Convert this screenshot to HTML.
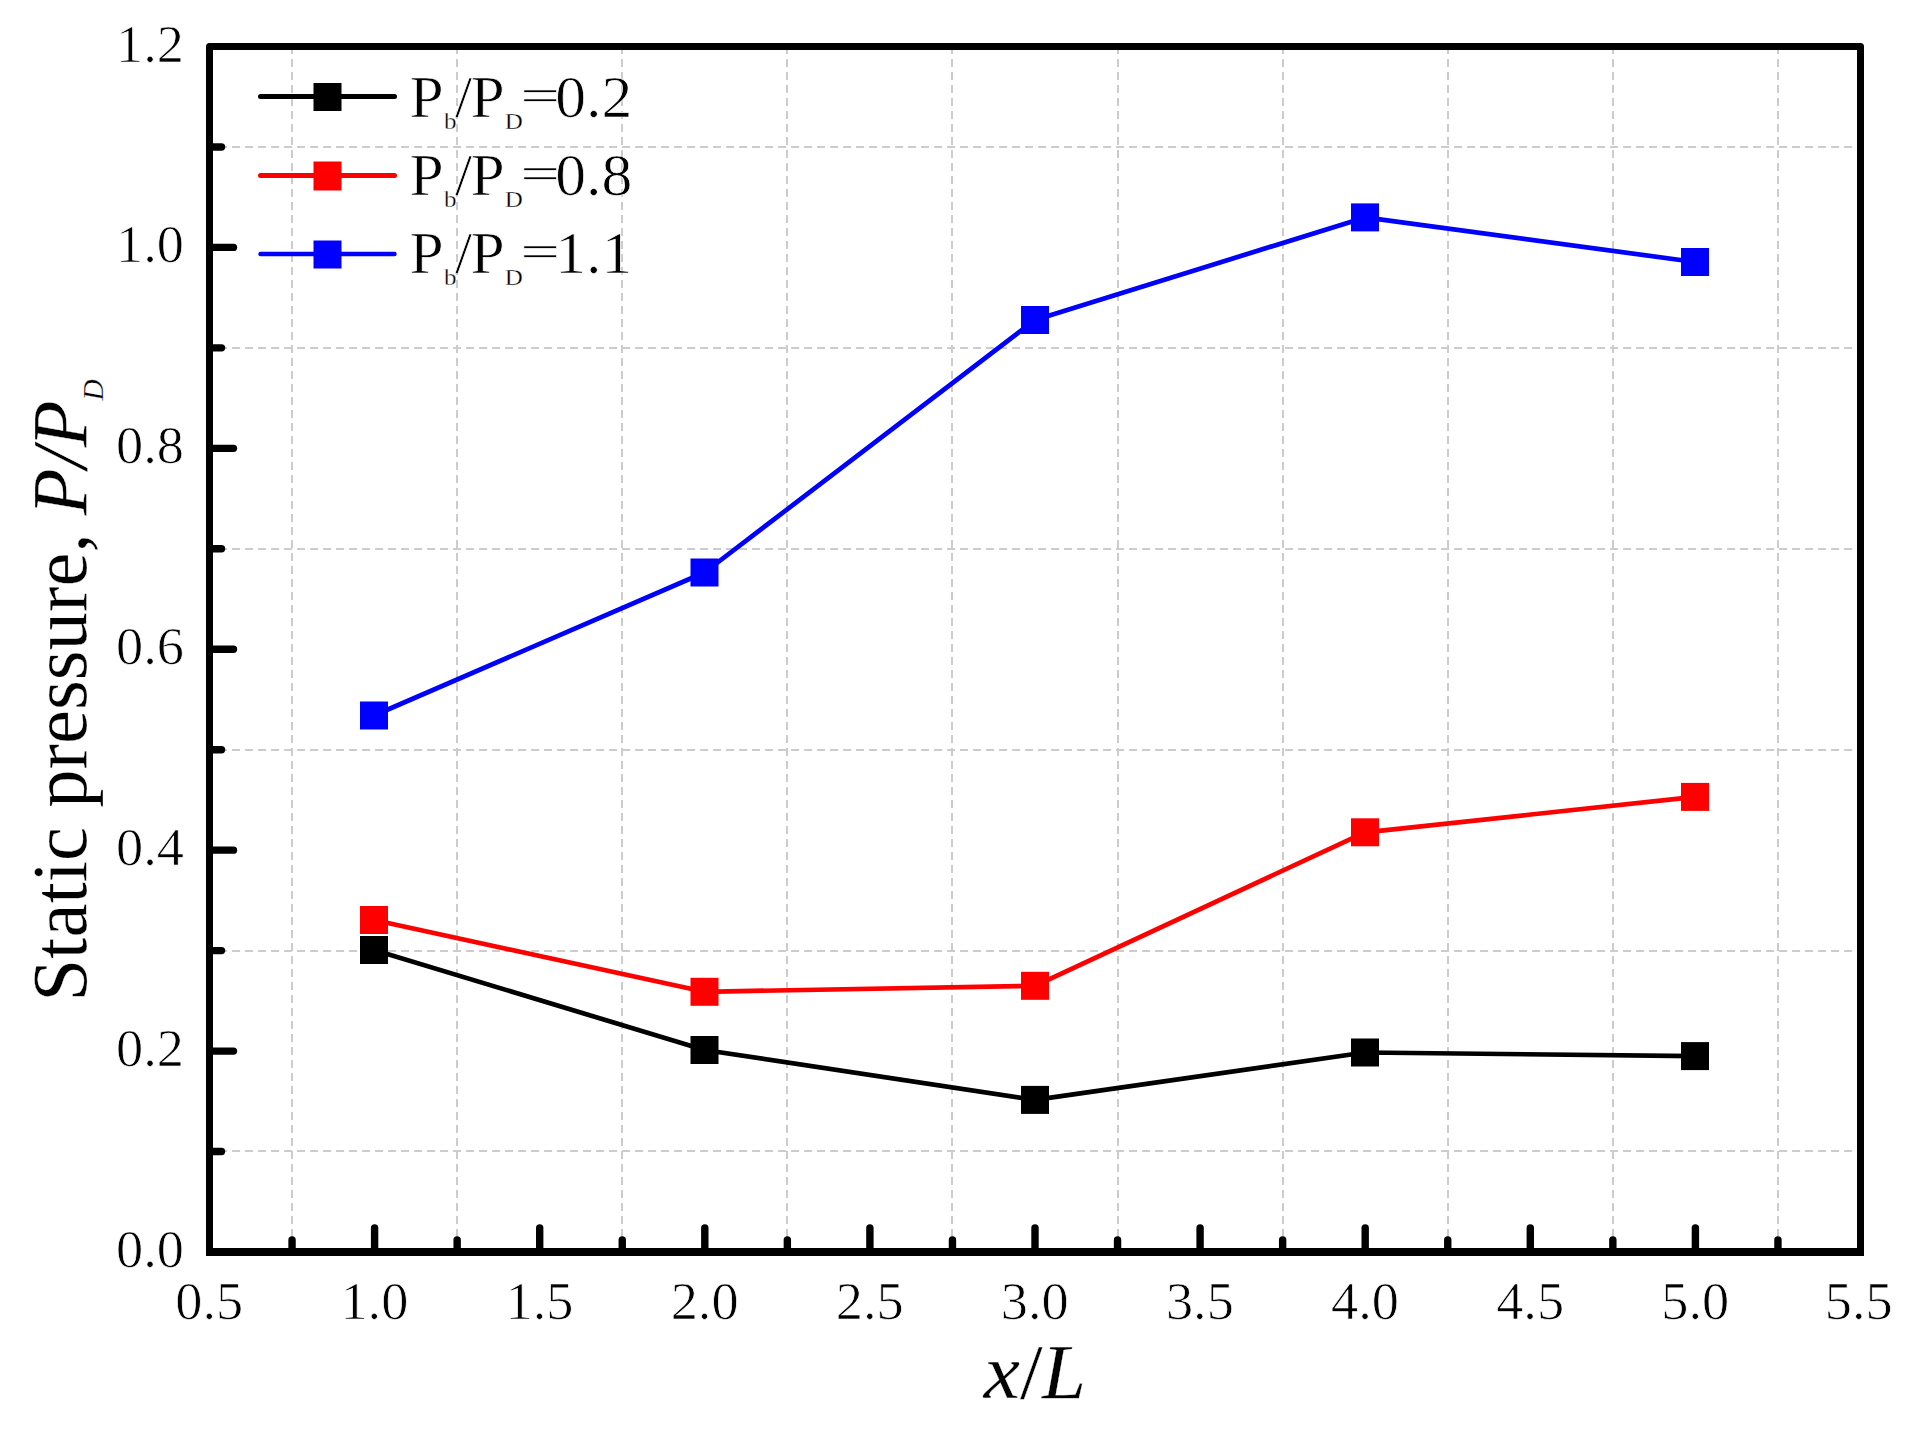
<!DOCTYPE html>
<html><head><meta charset="utf-8"><title>Static pressure</title>
<style>html,body{margin:0;padding:0;background:#fff}body{width:1915px;height:1439px;overflow:hidden}svg{display:block}text{font-family:"Liberation Serif",serif;fill:#000;stroke:#fff;stroke-width:0.7px}.t{stroke-width:0.3px}</style></head><body>
<svg width="1915" height="1439" viewBox="0 0 1915 1439">
<rect width="1915" height="1439" fill="#fff"/>
<g stroke="#cccccc" stroke-width="2" stroke-dasharray="8 5" fill="none">
<line x1="292" y1="46.00" x2="292" y2="1252.00"/>
<line x1="457" y1="46.00" x2="457" y2="1252.00"/>
<line x1="622" y1="46.00" x2="622" y2="1252.00"/>
<line x1="787" y1="46.00" x2="787" y2="1252.00"/>
<line x1="952" y1="46.00" x2="952" y2="1252.00"/>
<line x1="1118" y1="46.00" x2="1118" y2="1252.00"/>
<line x1="1283" y1="46.00" x2="1283" y2="1252.00"/>
<line x1="1448" y1="46.00" x2="1448" y2="1252.00"/>
<line x1="1613" y1="46.00" x2="1613" y2="1252.00"/>
<line x1="1778" y1="46.00" x2="1778" y2="1252.00"/>
<line x1="206.10" y1="1151" x2="1860.50" y2="1151"/>
<line x1="206.10" y1="951" x2="1860.50" y2="951"/>
<line x1="206.10" y1="750" x2="1860.50" y2="750"/>
<line x1="206.10" y1="549" x2="1860.50" y2="549"/>
<line x1="206.10" y1="348" x2="1860.50" y2="348"/>
<line x1="206.10" y1="147" x2="1860.50" y2="147"/>
</g>
<g stroke="#000" stroke-width="7.4" stroke-linecap="round">
<line x1="374.60" y1="1251.00" x2="374.60" y2="1228.00"/>
<line x1="539.70" y1="1251.00" x2="539.70" y2="1228.00"/>
<line x1="704.80" y1="1251.00" x2="704.80" y2="1228.00"/>
<line x1="869.90" y1="1251.00" x2="869.90" y2="1228.00"/>
<line x1="1035.00" y1="1251.00" x2="1035.00" y2="1228.00"/>
<line x1="1200.10" y1="1251.00" x2="1200.10" y2="1228.00"/>
<line x1="1365.20" y1="1251.00" x2="1365.20" y2="1228.00"/>
<line x1="1530.30" y1="1251.00" x2="1530.30" y2="1228.00"/>
<line x1="1695.40" y1="1251.00" x2="1695.40" y2="1228.00"/>
<line x1="292.05" y1="1251.00" x2="292.05" y2="1240.00"/>
<line x1="457.15" y1="1251.00" x2="457.15" y2="1240.00"/>
<line x1="622.25" y1="1251.00" x2="622.25" y2="1240.00"/>
<line x1="787.35" y1="1251.00" x2="787.35" y2="1240.00"/>
<line x1="952.45" y1="1251.00" x2="952.45" y2="1240.00"/>
<line x1="1117.55" y1="1251.00" x2="1117.55" y2="1240.00"/>
<line x1="1282.65" y1="1251.00" x2="1282.65" y2="1240.00"/>
<line x1="1447.75" y1="1251.00" x2="1447.75" y2="1240.00"/>
<line x1="1612.85" y1="1251.00" x2="1612.85" y2="1240.00"/>
<line x1="1777.95" y1="1251.00" x2="1777.95" y2="1240.00"/>
<line x1="210.50" y1="1051.08" x2="233.50" y2="1051.08"/>
<line x1="210.50" y1="850.17" x2="233.50" y2="850.17"/>
<line x1="210.50" y1="649.25" x2="233.50" y2="649.25"/>
<line x1="210.50" y1="448.33" x2="233.50" y2="448.33"/>
<line x1="210.50" y1="247.42" x2="233.50" y2="247.42"/>
<line x1="210.50" y1="1151.54" x2="221.50" y2="1151.54"/>
<line x1="210.50" y1="950.62" x2="221.50" y2="950.62"/>
<line x1="210.50" y1="749.71" x2="221.50" y2="749.71"/>
<line x1="210.50" y1="548.79" x2="221.50" y2="548.79"/>
<line x1="210.50" y1="347.87" x2="221.50" y2="347.87"/>
<line x1="210.50" y1="146.96" x2="221.50" y2="146.96"/>
</g>
<polyline points="374,950 704.5,1050 1035,1099.9 1365,1052.5 1695,1056.1" fill="none" stroke="#000" stroke-width="4.7" stroke-linejoin="round"/>
<rect x="360" y="936" width="28" height="28" fill="#000"/>
<rect x="690.5" y="1036" width="28" height="28" fill="#000"/>
<rect x="1021" y="1085.9" width="28" height="28" fill="#000"/>
<rect x="1351" y="1038.5" width="28" height="28" fill="#000"/>
<rect x="1681" y="1042.1" width="28" height="28" fill="#000"/>
<polyline points="374,920 704.5,991.8 1035,985.8 1365,832.3 1695,796.9" fill="none" stroke="#f00" stroke-width="4.7" stroke-linejoin="round"/>
<rect x="360" y="906" width="28" height="28" fill="#f00"/>
<rect x="690.5" y="977.8" width="28" height="28" fill="#f00"/>
<rect x="1021" y="971.8" width="28" height="28" fill="#f00"/>
<rect x="1351" y="818.3" width="28" height="28" fill="#f00"/>
<rect x="1681" y="782.9" width="28" height="28" fill="#f00"/>
<polyline points="374,715.5 704.5,572.5 1035,320 1365,217.4 1695,262" fill="none" stroke="#00f" stroke-width="4.7" stroke-linejoin="round"/>
<rect x="360" y="701.5" width="28" height="28" fill="#00f"/>
<rect x="690.5" y="558.5" width="28" height="28" fill="#00f"/>
<rect x="1021" y="306" width="28" height="28" fill="#00f"/>
<rect x="1351" y="203.4" width="28" height="28" fill="#00f"/>
<rect x="1681" y="248" width="28" height="28" fill="#00f"/>
<rect x="209.5" y="46.5" width="1651.0" height="1205.5" fill="none" stroke="#000" stroke-width="7" stroke-linejoin="round"/>
<line x1="206.0" y1="1252.0" x2="1864.0" y2="1252.0" stroke="#000" stroke-width="8"/>
<line x1="260.5" y1="96.5" x2="394.5" y2="96.5" stroke="#000" stroke-width="5" stroke-linecap="round"/>
<rect x="313.5" y="83.0" width="28" height="28" fill="#000"/>
<g><text transform="translate(409.50,117.00) scale(1.04,1)" font-size="59">P</text><text transform="translate(444.00,128.70) scale(1.04,1)" font-size="24" class="t">b</text><text transform="translate(455.00,117.00) scale(1.04,1)" font-size="59">/</text><text transform="translate(470.50,117.00) scale(1.04,1)" font-size="59">P</text><text transform="translate(504.80,128.70) scale(1.04,1)" font-size="24" class="t">D</text><text transform="translate(520.3,110.60) scale(1.2,0.78)" font-size="59">=</text><text transform="translate(555.20,117.00) scale(1.045,1)" font-size="59">0.2</text></g>
<line x1="260.5" y1="175.5" x2="394.5" y2="175.5" stroke="#f00" stroke-width="5" stroke-linecap="round"/>
<rect x="313.5" y="161.5" width="28" height="29" fill="#f00"/>
<g><text transform="translate(409.50,195.00) scale(1.04,1)" font-size="59">P</text><text transform="translate(444.00,206.70) scale(1.04,1)" font-size="24" class="t">b</text><text transform="translate(455.00,195.00) scale(1.04,1)" font-size="59">/</text><text transform="translate(470.50,195.00) scale(1.04,1)" font-size="59">P</text><text transform="translate(504.80,206.70) scale(1.04,1)" font-size="24" class="t">D</text><text transform="translate(520.3,188.60) scale(1.2,0.78)" font-size="59">=</text><text transform="translate(555.20,195.00) scale(1.045,1)" font-size="59">0.8</text></g>
<line x1="260.5" y1="254" x2="394.5" y2="254" stroke="#00f" stroke-width="4.4" stroke-linecap="round"/>
<rect x="313.5" y="240.5" width="28" height="28" fill="#00f"/>
<g><text transform="translate(409.50,273.30) scale(1.04,1)" font-size="59">P</text><text transform="translate(444.00,285.00) scale(1.04,1)" font-size="24" class="t">b</text><text transform="translate(455.00,273.30) scale(1.04,1)" font-size="59">/</text><text transform="translate(470.50,273.30) scale(1.04,1)" font-size="59">P</text><text transform="translate(504.80,285.00) scale(1.04,1)" font-size="24" class="t">D</text><text transform="translate(520.3,266.90) scale(1.2,0.78)" font-size="59">=</text><text transform="translate(555.20,273.30) scale(1.045,1)" font-size="59">1.1</text></g>
<text transform="translate(209.30,1318.80) scale(1.045,1)" font-size="52" text-anchor="middle">0.5</text>
<text transform="translate(374.40,1318.80) scale(1.045,1)" font-size="52" text-anchor="middle">1.0</text>
<text transform="translate(539.50,1318.80) scale(1.045,1)" font-size="52" text-anchor="middle">1.5</text>
<text transform="translate(704.60,1318.80) scale(1.045,1)" font-size="52" text-anchor="middle">2.0</text>
<text transform="translate(869.70,1318.80) scale(1.045,1)" font-size="52" text-anchor="middle">2.5</text>
<text transform="translate(1034.80,1318.80) scale(1.045,1)" font-size="52" text-anchor="middle">3.0</text>
<text transform="translate(1199.90,1318.80) scale(1.045,1)" font-size="52" text-anchor="middle">3.5</text>
<text transform="translate(1365.00,1318.80) scale(1.045,1)" font-size="52" text-anchor="middle">4.0</text>
<text transform="translate(1530.10,1318.80) scale(1.045,1)" font-size="52" text-anchor="middle">4.5</text>
<text transform="translate(1695.20,1318.80) scale(1.045,1)" font-size="52" text-anchor="middle">5.0</text>
<text transform="translate(1858.80,1318.80) scale(1.045,1)" font-size="52" text-anchor="middle">5.5</text>
<text transform="translate(184.00,1267.00) scale(1.045,1)" font-size="52" text-anchor="end">0.0</text>
<text transform="translate(184.00,1066.08) scale(1.045,1)" font-size="52" text-anchor="end">0.2</text>
<text transform="translate(184.00,865.17) scale(1.045,1)" font-size="52" text-anchor="end">0.4</text>
<text transform="translate(184.00,664.25) scale(1.045,1)" font-size="52" text-anchor="end">0.6</text>
<text transform="translate(184.00,463.33) scale(1.045,1)" font-size="52" text-anchor="end">0.8</text>
<text transform="translate(184.00,262.42) scale(1.045,1)" font-size="52" text-anchor="end">1.0</text>
<text transform="translate(184.00,61.50) scale(1.045,1)" font-size="52" text-anchor="end">1.2</text>
<g><text transform="translate(983.80,1397.80) scale(1.045,1)" font-size="78" font-style="italic" class="t">x</text><text transform="translate(1020.00,1397.80) scale(1.045,1)" font-size="78" class="t">/</text><text transform="translate(1042.00,1397.80) scale(1.015,1)" font-size="78" font-style="italic" class="t">L</text></g>
<g><text transform="translate(86.3,1001.5) rotate(-90) scale(0.97,1)" font-size="79" class="t">Static pressure, </text><text transform="translate(86.3,515.2) rotate(-90) scale(0.975,1)" font-size="78.5" font-style="italic" class="t">P/P</text><text transform="translate(103.4,400.5) rotate(-90) scale(0.975,1)" font-size="30" font-style="italic" class="t">D</text></g>
</svg></body></html>
